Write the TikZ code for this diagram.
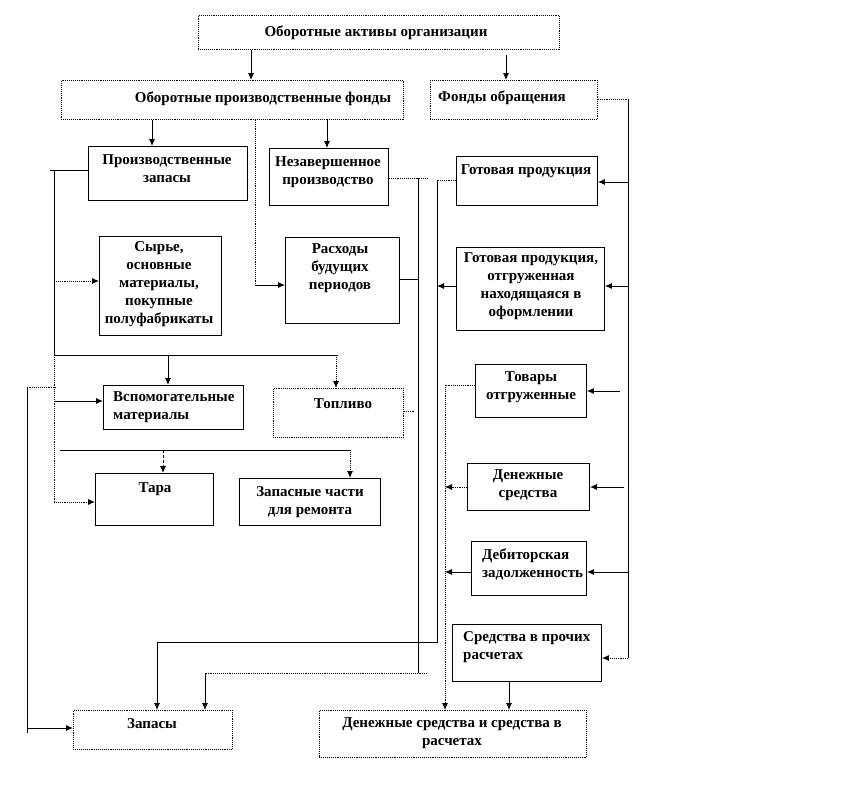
\documentclass[tikz,border=0pt]{standalone}
\usepackage{fontspec}
\setmainfont{Liberation Serif}
\usetikzlibrary{arrows.meta}

\tikzset{
  blok/.style={draw, line width=0.9pt, inner sep=0pt, anchor=north west},
  blokdot/.style={blok, densely dotted},
  txt/.style={font=\bfseries\fontsize{15}{18}\selectfont, align=center, inner sep=0pt},
  lin/.style={line width=0.9pt},
  dotline/.style={line width=0.9pt, densely dotted},
  arr/.style={line width=0.9pt, -{Latex[length=7pt,width=6pt]}},
}

\begin{document}
\begin{tikzpicture}[x=1pt,y=-1pt]
\useasboundingbox (0,0) rectangle (863,788);

% top level
\node[blokdot, minimum width=361, minimum height=34] (aktivy) at (198,15) {};
\node[txt] (aktivyT) at (376,33) {Оборотные активы организации};

\node[blokdot, minimum width=342, minimum height=39] (opf) at (61,80) {};
\node[txt] (opfT) at (263,99) {Оборотные производственные фонды};

\node[blokdot, minimum width=167, minimum height=39] (fo) at (430,80) {};
\node[txt] (foT) at (502,98) {Фонды обращения};

% production funds
\node[blok, minimum width=159, minimum height=54] (pz) at (88,146) {};
\node[txt] (pzT) at (167,169) {Производственные\\запасы};

\node[blok, minimum width=119, minimum height=57] (np) at (269,148) {};
\node[txt] (npT) at (328,172) {Незавершенное\\производство};

\node[blok, minimum width=122, minimum height=99] (syr) at (99,236) {};
\node[txt] (syrT) at (159,284) {Сырье,\\основные\\материалы,\\покупные\\полуфабрикаты};

\node[blok, minimum width=114, minimum height=86] (rbp) at (285,237) {};
\node[txt] (rbpT) at (340,268) {Расходы\\будущих\\периодов};

\node[blok, minimum width=140, minimum height=44] (vsp) at (103,385) {};
\node[txt, align=left, anchor=west] (vspT) at (113,407) {Вспомогательные\\материалы};

\node[blokdot, minimum width=130, minimum height=49] (topl) at (273,388) {};
\node[txt] (toplT) at (343,404) {Топливо};

\node[blok, minimum width=118, minimum height=52] (tara) at (95,473) {};
\node[txt] (taraT) at (155,489) {Тара};

\node[blok, minimum width=141, minimum height=47] (zch) at (239,478) {};
\node[txt] (zchT) at (310,502) {Запасные части\\для ремонта};

% circulation funds
\node[blok, minimum width=141, minimum height=49] (gp) at (456,156) {};
\node[txt] (gpT) at (526,171) {Готовая продукция};

\node[blok, minimum width=148, minimum height=83] (gpo) at (456,247) {};
\node[txt] (gpoT) at (531,286) {Готовая продукция,\\отгруженная\\находящаяся в\\оформлении};

\node[blok, minimum width=111, minimum height=53] (tov) at (475,364) {};
\node[txt] (tovT) at (531,387) {Товары\\отгруженные};

\node[blok, minimum width=122, minimum height=47] (ds) at (467,463) {};
\node[txt] (dsT) at (528,485) {Денежные\\средства};

\node[blok, minimum width=115, minimum height=54] (deb) at (471,541) {};
\node[txt, align=left, anchor=west] (debT) at (482,564) {Дебиторская\\задолженность};

\node[blok, minimum width=149, minimum height=57] (spr) at (452,624) {};
\node[txt, align=left, anchor=west] (sprT) at (463,647) {Средства в прочих\\расчетах};

% totals
\node[blokdot, minimum width=159, minimum height=39] (zap) at (73,710) {};
\node[txt] (zapT) at (152,724) {Запасы};

\node[blokdot, minimum width=267, minimum height=47] (dsr) at (319,710) {};
\node[txt] (dsrT) at (452,733) {Денежные средства и средства в\\расчетах};

% from the top
\draw[arr] (251,0 |- aktivy.south) -- (251,0 |- opf.north);
\draw[arr] (506,55) -- (506,0 |- fo.north);
\draw[arr] (152,0 |- opf.south) -- (152,0 |- pz.north);
\draw[arr] (327,0 |- opf.south) -- (327,0 |- np.north);
\draw[dotline] (255,0 |- opf.south) -- (255,285) coordinate (c1);
\draw[arr] (c1) -- (rbp.west |- c1);

% production stocks
\draw[lin] (pz.west |- 0,170) -- (50,170);
\draw[lin] (54,170) -- (54,355);
\draw[dotline] (54,355) -- (54,502);
\draw[arr, densely dotted] (54,281) -- (syr.west |- 0,281);
\draw[lin] (54,355) -- (338,355);
\draw[arr] (168,355) -- (168,0 |- vsp.north);
\draw[arr, densely dotted] (336,355) -- (336,0 |- topl.north);
\draw[arr] (54,401) -- (vsp.west |- 0,401);
\draw[lin] (60,450) -- (350,450);
\draw[arr, densely dashed] (163,450) -- (163,0 |- tara.north);
\draw[arr, densely dotted] (350,450) -- (350,0 |- zch.north);
\draw[arr, densely dotted] (54,502) -- (tara.west |- 0,502);

\draw[dotline] (56,387) -- (27,387);
\draw[lin] (27,387) -- (27,733);
\draw[arr] (27,728) -- (zap.west |- 0,728);

% to stocks
\draw[dotline] (np.east |- 0,178) -- (427,178);
\draw[lin] (418,178) -- (418,673);
\draw[lin] (rbp.east |- 0,279) -- (418,279);
\draw[dotline] (topl.east |- 0,411) -- (414,411);
\draw[dotline] (427,673) -- (205,673);
\draw[arr] (205,673) -- (205,0 |- zap.north);

\draw[dotline] (gp.west |- 0,180) -- (437,180);
\draw[lin] (437,180) -- (437,642) -- (157,642);
\draw[arr] (157,642) -- (157,0 |- zap.north);
\draw[arr] (gpo.west |- 0,286) -- (437,286);

% to money and settlements
\draw[dotline] (tov.west |- 0,385) -- (445,385);
\draw[arr, densely dotted] (445,385) -- (445,0 |- dsr.north);
\draw[arr, densely dotted] (ds.west |- 0,487) -- (445,487);
\draw[arr] (deb.west |- 0,572) -- (445,572);
\draw[arr] (509,0 |- spr.south) -- (509,0 |- dsr.north);

% circulation funds bus
\draw[dotline] (fo.east |- 0,99) -- (628,99);
\draw[lin] (628,99) -- (628,658);
\draw[arr] (628,182) -- (gp.east |- 0,182);
\draw[arr] (628,286) -- (gpo.east |- 0,286);
\draw[arr] (620,391) -- (tov.east |- 0,391);
\draw[arr] (624,487) -- (ds.east |- 0,487);
\draw[arr] (628,572) -- (deb.east |- 0,572);
\draw[arr, densely dotted] (628,658) -- (spr.east |- 0,658);
\end{tikzpicture}
\end{document}
